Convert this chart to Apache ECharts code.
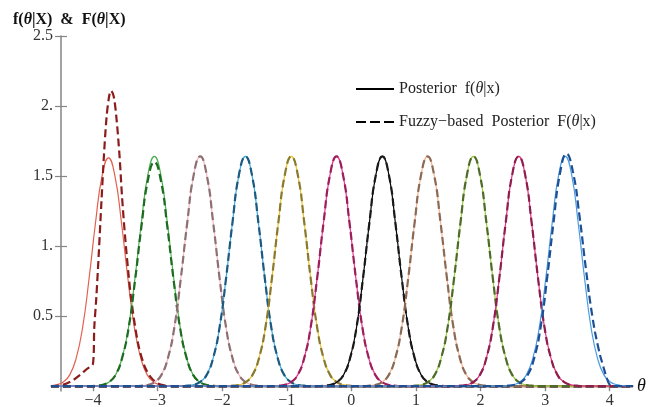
<!DOCTYPE html>
<html><head><meta charset="utf-8">
<script src="https://cdn.jsdelivr.net/npm/echarts@6/dist/echarts.min.js"></script>
<style>html,body{margin:0;padding:0;background:#fff}#c{width:648px;height:407px}</style>
</head><body><div id="c"></div>
<script>
// ---- axis ranges / ticks ----
const X_MIN = -4.65, X_MAX = 4.36;
const Y_MIN = -0.035, Y_MAX = 2.5;
const xTickValues = [-4, -3, -2, -1, 0, 1, 2, 3, 4];
const xTickLabels = ['\u22124', '\u22123', '\u22122', '\u22121', '0', '1', '2', '3', '4'];
const yTickValues = [0.5, 1, 1.5, 2, 2.5];
const yTickLabels = ['0.5', '1.', '1.5', '2.', '2.5'];

// ---- posterior curves: offsets from each peak (theta units) and values ----
const offsets = [-1.0, -0.9, -0.8, -0.7, -0.6, -0.5, -0.4, -0.3, -0.2, -0.1, 0, 0.1, 0.2, 0.3, 0.4, 0.5, 0.6, 0.7, 0.8, 0.9, 1.0];
const peakCenters = [-3.76, -3.05, -2.34, -1.64, -0.93, -0.23, 0.48, 1.18, 1.89, 2.59, 3.31];

const f1  = [0, 0.003, 0.01, 0.03, 0.08, 0.20, 0.42, 0.77, 1.17, 1.50, 1.63, 1.50, 1.17, 0.77, 0.42, 0.20, 0.08, 0.03, 0.01, 0.003, 0];
const f2  = [0, 0.003, 0.01, 0.03, 0.08, 0.20, 0.42, 0.77, 1.17, 1.51, 1.64, 1.51, 1.17, 0.77, 0.42, 0.20, 0.08, 0.03, 0.01, 0.003, 0];
const f3  = [0, 0.003, 0.01, 0.03, 0.08, 0.20, 0.42, 0.77, 1.17, 1.51, 1.64, 1.51, 1.17, 0.77, 0.42, 0.20, 0.08, 0.03, 0.01, 0.003, 0];
const f4  = [0, 0.003, 0.01, 0.03, 0.08, 0.20, 0.42, 0.77, 1.17, 1.51, 1.64, 1.51, 1.17, 0.77, 0.42, 0.20, 0.08, 0.03, 0.01, 0.003, 0];
const f5  = [0, 0.003, 0.01, 0.03, 0.08, 0.20, 0.42, 0.77, 1.17, 1.51, 1.64, 1.51, 1.17, 0.77, 0.42, 0.20, 0.08, 0.03, 0.01, 0.003, 0];
const f6  = [0, 0.003, 0.01, 0.03, 0.08, 0.20, 0.42, 0.77, 1.17, 1.51, 1.64, 1.51, 1.17, 0.77, 0.42, 0.20, 0.08, 0.03, 0.01, 0.003, 0];
const f7  = [0, 0.003, 0.01, 0.03, 0.08, 0.20, 0.42, 0.77, 1.17, 1.51, 1.64, 1.51, 1.17, 0.77, 0.42, 0.20, 0.08, 0.03, 0.01, 0.003, 0];
const f8  = [0, 0.003, 0.01, 0.03, 0.08, 0.20, 0.42, 0.77, 1.17, 1.51, 1.64, 1.51, 1.17, 0.77, 0.42, 0.20, 0.08, 0.03, 0.01, 0.003, 0];
const f9  = [0, 0.003, 0.01, 0.03, 0.08, 0.20, 0.42, 0.77, 1.17, 1.51, 1.64, 1.51, 1.17, 0.77, 0.42, 0.20, 0.08, 0.03, 0.01, 0.003, 0];
const f10 = [0, 0.003, 0.01, 0.03, 0.08, 0.20, 0.42, 0.77, 1.17, 1.51, 1.64, 1.51, 1.17, 0.77, 0.42, 0.20, 0.08, 0.03, 0.01, 0.003, 0];
const f11 = [0, 0.003, 0.01, 0.03, 0.08, 0.20, 0.42, 0.77, 1.17, 1.51, 1.64, 1.51, 1.17, 0.77, 0.42, 0.20, 0.08, 0.03, 0.01, 0.003, 0];

// fuzzy-based posteriors (mostly coincide with the posteriors)
const F2  = [0, 0.003, 0.01, 0.03, 0.08, 0.20, 0.41, 0.75, 1.14, 1.47, 1.60, 1.47, 1.14, 0.75, 0.41, 0.20, 0.08, 0.03, 0.01, 0.003, 0];
const F3  = [0, 0.003, 0.01, 0.03, 0.08, 0.20, 0.42, 0.77, 1.17, 1.51, 1.64, 1.51, 1.17, 0.77, 0.42, 0.20, 0.08, 0.03, 0.01, 0.003, 0];
const F4  = [0, 0.003, 0.01, 0.03, 0.08, 0.20, 0.42, 0.77, 1.17, 1.51, 1.64, 1.51, 1.17, 0.77, 0.42, 0.20, 0.08, 0.03, 0.01, 0.003, 0];
const F5  = [0, 0.003, 0.01, 0.03, 0.08, 0.20, 0.42, 0.77, 1.17, 1.51, 1.64, 1.51, 1.17, 0.77, 0.42, 0.20, 0.08, 0.03, 0.01, 0.003, 0];
const F6  = [0, 0.003, 0.01, 0.03, 0.08, 0.20, 0.42, 0.77, 1.17, 1.51, 1.64, 1.51, 1.17, 0.77, 0.42, 0.20, 0.08, 0.03, 0.01, 0.003, 0];
const F7  = [0, 0.003, 0.01, 0.03, 0.08, 0.20, 0.42, 0.77, 1.17, 1.51, 1.64, 1.51, 1.17, 0.77, 0.42, 0.20, 0.08, 0.03, 0.01, 0.003, 0];
const F8  = [0, 0.003, 0.01, 0.03, 0.08, 0.20, 0.42, 0.77, 1.17, 1.51, 1.64, 1.51, 1.17, 0.77, 0.42, 0.20, 0.08, 0.03, 0.01, 0.003, 0];
const F9  = [0, 0.003, 0.01, 0.03, 0.08, 0.20, 0.42, 0.77, 1.17, 1.51, 1.64, 1.51, 1.17, 0.77, 0.42, 0.20, 0.08, 0.03, 0.01, 0.003, 0];
const F10 = [0, 0.003, 0.01, 0.03, 0.08, 0.20, 0.42, 0.77, 1.17, 1.51, 1.64, 1.51, 1.17, 0.77, 0.42, 0.20, 0.08, 0.03, 0.01, 0.003, 0];
// truncated ends: read as explicit (theta, value) pairs
const F1x = [-4.65, -4.5, -4.4, -4.3, -4.2, -4.1, -4.0, -3.98, -3.95, -3.91, -3.87, -3.83, -3.79, -3.75, -3.72, -3.68, -3.64, -3.59, -3.55, -3.5, -3.45, -3.4, -3.3, -3.2, -3.1, -3.0, -2.9, -2.75, 4.36];
const F1y = [0, 0.005, 0.02, 0.045, 0.08, 0.12, 0.16, 0.42, 0.62, 0.95, 1.31, 1.65, 1.92, 2.07, 2.11, 2.07, 1.93, 1.65, 1.35, 1.05, 0.80, 0.59, 0.30, 0.14, 0.06, 0.02, 0.005, 0, 0];
const F11x = [-4.65, 2.33, 2.43, 2.53, 2.63, 2.73, 2.83, 2.93, 3.03, 3.13, 3.23, 3.33, 3.43, 3.53, 3.63, 3.73, 3.83, 3.9, 3.96, 4.0, 4.05, 4.36];
const F11y = [0, 0, 0.003, 0.01, 0.03, 0.08, 0.20, 0.42, 0.77, 1.17, 1.52, 1.66, 1.53, 1.22, 0.84, 0.50, 0.26, 0.14, 0.05, 0.01, 0, 0];

const solidColors  = ['#e4604e', '#4cb050', '#f2b6c6', '#3ea8d8', '#e9c22c', '#e8328f', '#000000', '#f6b394', '#9ccc3a', '#e0307a', '#4a9be0'];
const dashedColors = ['#8b1c1c', '#1e6b22', '#8e7073', '#1c5a80', '#8a7a30', '#9c1e5a', '#1a1a1a', '#8a6a55', '#4f6b2a', '#8e1e50', '#1d4f95'];

const fVals = [f1, f2, f3, f4, f5, f6, f7, f8, f9, f10, f11];
const FVals = [null, F2, F3, F4, F5, F6, F7, F8, F9, F10, null];

function build(center, vals) {
  const d = [[X_MIN, 0]];
  offsets.forEach((o, i) => {
    const x = +(center + o).toFixed(3);
    if (x > X_MIN && x < X_MAX) d.push([x, vals[i]]);
  });
  d.push([X_MAX, 0]);
  return d;
}
function pairs(xs, ys) { return xs.map((x, i) => [x, ys[i]]); }

const serif = 'Liberation Serif';
const series = [];
for (let i = 0; i < 11; i++) {
  series.push({
    type: 'line', name: 'f' + i, data: build(peakCenters[i], fVals[i]),
    showSymbol: false, symbol: 'none', smooth: 0.5,
    lineStyle: { color: solidColors[i], width: 1.2 }, silent: true
  });
  let dd;
  if (i === 0) dd = pairs(F1x, F1y);
  else if (i === 10) dd = pairs(F11x, F11y);
  else dd = build(peakCenters[i], FVals[i]);
  series.push({
    type: 'line', name: 'F' + i, data: dd,
    showSymbol: false, symbol: 'none', smooth: (i === 0 ? 0.3 : 0.5),
    lineStyle: { color: dashedColors[i], width: 2.2, type: [8, 4] }, silent: true
  });
}
// legend entries
series.push({ type: 'line', name: 'Posterior', data: [], symbol: 'none', lineStyle: { color: '#000', width: 3 }, itemStyle: { color: '#000' } });
series.push({ type: 'line', name: 'Fuzzy', data: [], symbol: 'none', lineStyle: { color: '#000', width: 3, type: [10, 4] }, itemStyle: { color: '#000' } });

const axisGray = '#858585';
const chart = echarts.init(document.getElementById('c'), null, { renderer: 'canvas' });
chart.setOption({
  animation: false,
  backgroundColor: '#fff',
  title: {
    left: 8, top: 7,
    text: '{b|f(}{bi|\u03b8}{b||X)  &  F(}{bi|\u03b8}{b||X)}',
    textStyle: { rich: {
      b: { fontFamily: serif, fontWeight: 'bold', fontSize: 16, color: '#111' },
      bi: { fontFamily: serif, fontWeight: 'bold', fontStyle: 'italic', fontSize: 16, color: '#111' }
    } }
  },
  legend: {
    orient: 'vertical', left: 350, top: 76, itemWidth: 38, itemHeight: 12, itemGap: 17,
    data: ['Posterior', 'Fuzzy'],
    itemStyle: { opacity: 0 },
    formatter: function (n) {
      return n === 'Posterior' ? 'Posterior  f({i|\u03b8}|x)' : 'Fuzzy\u2212based  Posterior  F({i|\u03b8}|x)';
    },
    textStyle: { fontFamily: serif, fontSize: 16, color: '#222',
      rich: { i: { fontFamily: serif, fontStyle: 'italic', fontSize: 16, color: '#222' } } },
    selectedMode: false
  },
  grid: { left: 51, right: 15, top: 36, bottom: 16, containLabel: false, outerBoundsMode: 'none' },
  xAxis: [{
    type: 'value', min: X_MIN, max: X_MAX,
    axisLine: { onZero: true, lineStyle: { color: axisGray, width: 1.5 } },
    axisTick: { show: true, length: 5, customValues: xTickValues, lineStyle: { color: axisGray, width: 1.2 } },
    axisLabel: { customValues: xTickValues, margin: 2, fontFamily: serif, fontSize: 16, color: '#333',
      formatter: v => xTickLabels[xTickValues.indexOf(Math.round(v))] },
    splitLine: { show: false },
    name: '\u03b8', nameLocation: 'end', nameGap: 4,
    nameTextStyle: { fontFamily: serif, fontStyle: 'italic', fontSize: 18, color: '#111' }
  }, {
    type: 'value', min: X_MIN, max: X_MAX,
    axisLine: { show: false, onZero: true },
    axisTick: { show: true, inside: true, length: 5, customValues: xTickValues, lineStyle: { color: axisGray, width: 1.2 } },
    axisLabel: { show: false }, splitLine: { show: false }
  }],
  yAxis: [{
    type: 'value', min: Y_MIN, max: Y_MAX, offset: -10,
    axisLine: { show: true, onZero: false, lineStyle: { color: axisGray, width: 1.5 } },
    axisTick: { show: true, length: 6, customValues: yTickValues, lineStyle: { color: axisGray, width: 1.2 } },
    axisLabel: { customValues: yTickValues, margin: 8, fontFamily: serif, fontSize: 16, color: '#333',
      formatter: v => yTickLabels[yTickValues.indexOf(Math.round(v * 2) / 2)] },
    splitLine: { show: false }
  }, {
    type: 'value', min: Y_MIN, max: Y_MAX, offset: -10, position: 'left',
    axisLine: { show: false, onZero: false },
    axisTick: { show: true, inside: true, length: 6, customValues: yTickValues, lineStyle: { color: axisGray, width: 1.2 } },
    axisLabel: { show: false }, splitLine: { show: false }
  }],
  series: series
});
</script></body></html>
